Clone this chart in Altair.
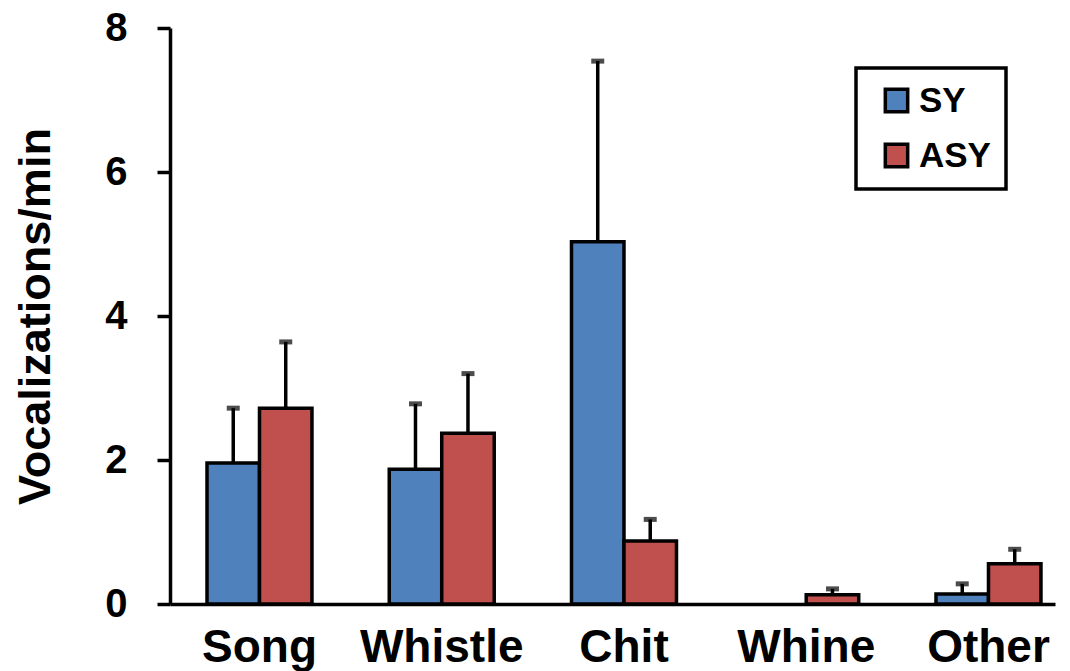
import altair as alt
import pandas as pd

categories = ["Song", "Whistle", "Chit", "Whine", "Other"]
groups = ["SY", "ASY"]
sy_values = [1.96, 1.87, 5.03, 0.0, 0.14]
sy_errors = [0.76, 0.91, 2.51, 0.0, 0.14]
asy_values = [2.72, 2.37, 0.875, 0.13, 0.56]
asy_errors = [0.92, 0.83, 0.30, 0.08, 0.20]
y_ticks = [0, 2, 4, 6, 8]
colors = ["#4F81BD", "#C0504D"]

rows = []
for i, c in enumerate(categories):
    rows.append({"cat": c, "grp": "SY", "val": sy_values[i], "err": sy_errors[i],
                 "top": sy_values[i] + sy_errors[i]})
    rows.append({"cat": c, "grp": "ASY", "val": asy_values[i], "err": asy_errors[i],
                 "top": asy_values[i] + asy_errors[i]})
df = pd.DataFrame(rows)

FONT = "Liberation Sans"

x_enc = alt.X("cat:N", sort=categories,
              scale=alt.Scale(paddingInner=0.424, paddingOuter=0.14, align=0.725),
              axis=alt.Axis(title=None, ticks=False, tickSize=0, labelAngle=0,
                            labelFont=FONT, labelFontSize=46, labelFontWeight="bold",
                            labelColor="black", labelPadding=21, labelBaseline="top",
                            domainColor="black", domainWidth=3.5))
xo_enc = alt.XOffset("grp:N", sort=groups)

base = alt.Chart(df)

bars = base.transform_filter("datum.val > 0").mark_bar(
    stroke="black", strokeWidth=3.5, strokeJoin="miter"
).encode(
    x=x_enc,
    xOffset=xo_enc,
    y=alt.Y("val:Q",
            scale=alt.Scale(domain=[0, 8], nice=False),
            axis=alt.Axis(title="Vocalizations/min", values=y_ticks, format="d", grid=False,
                          labelFont=FONT, labelFontSize=40, labelFontWeight="bold",
                          labelColor="black", labelPadding=30,
                          tickSize=13, tickWidth=3.5, tickColor="black",
                          domainColor="black", domainWidth=3.5,
                          titleFont=FONT, titleFontSize=45, titleFontWeight="bold",
                          titleColor="black", titlePadding=46)),
    color=alt.Color("grp:N", sort=groups,
                    scale=alt.Scale(domain=groups, range=colors),
                    legend=alt.Legend(title=None, orient="none", legendX=686, legendY=40,
                                      symbolType="square", symbolSize=500,
                                      symbolStrokeColor="black", symbolStrokeWidth=3.5,
                                      symbolOffset=8,
                                      labelFont=FONT, labelFontSize=35, labelFontWeight="bold",
                                      labelColor="black", labelOffset=5,
                                      rowPadding=18, padding=15,
                                      fillColor="white", strokeColor="black")),
)

rules = base.transform_filter("datum.err > 0").mark_rule(
    color="black", strokeWidth=3.5
).encode(
    x=x_enc,
    xOffset=xo_enc,
    y="val:Q",
    y2="top:Q",
)

caps = base.transform_filter("datum.err > 0").mark_tick(
    color="black", thickness=5, size=13, orient="horizontal"
).encode(
    x=x_enc,
    xOffset=xo_enc,
    y="top:Q",
)

chart = alt.layer(bars, rules, caps).properties(
    width=885, height=576,
    autosize=alt.AutoSizeParams(type="none"),
    padding={"left": 162, "top": 20, "right": 5, "bottom": 72},
).configure_view(stroke=None).configure_legend(strokeWidth=3.5)

chart.save("out.html", embed_options={"renderer": "svg", "actions": False})
